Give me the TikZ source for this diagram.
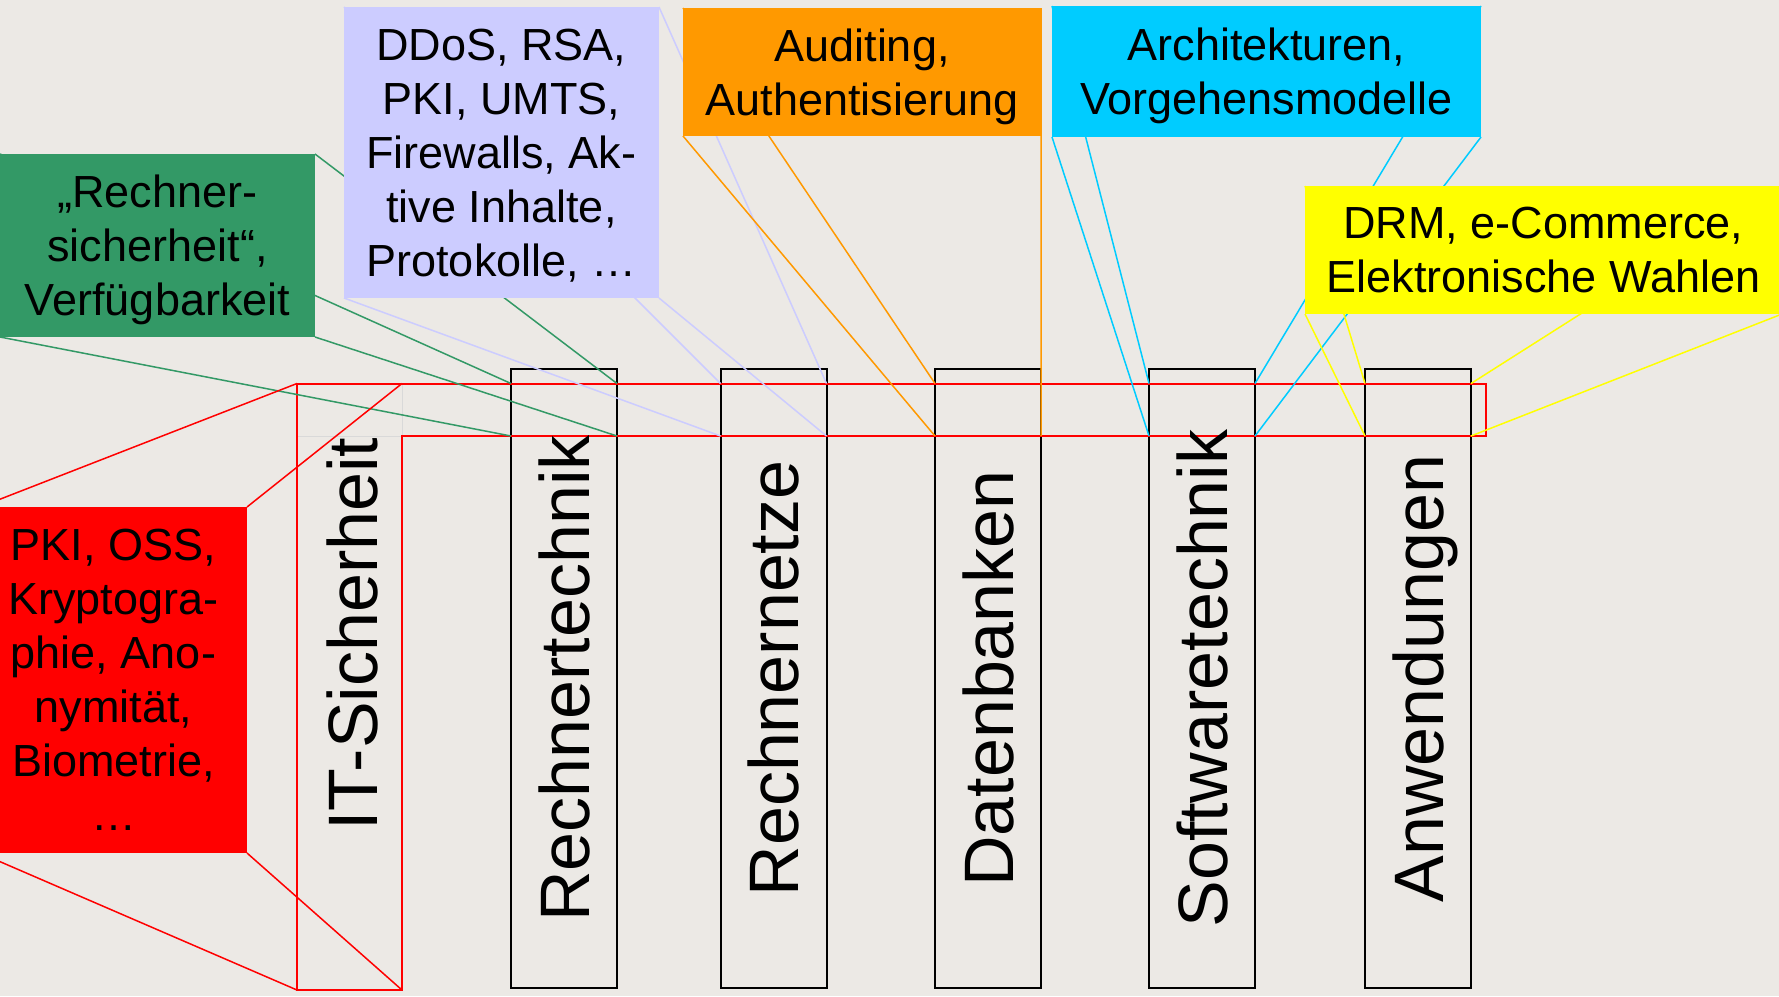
\documentclass[tikz,border=0pt]{standalone}
\usepackage{fontspec}
\setmainfont{Liberation Sans}
\usetikzlibrary{positioning,backgrounds}
\definecolor{hintergrund}{RGB}{236,233,229}
\definecolor{gruen}{RGB}{51,153,102}
\definecolor{lila}{RGB}{204,204,255}
\definecolor{orangeton}{RGB}{255,153,0}
\definecolor{cyanton}{RGB}{0,204,255}
\definecolor{gelb}{RGB}{255,255,0}
\tikzset{
    saeule/.style={draw=black, line width=2pt, minimum width=106pt, minimum height=619pt, inner sep=0pt, outer sep=0pt},
    titel/.style={rotate=90, text depth=0pt, font=\fontsize{70}{84}\selectfont},
    kasten/.style={align=center, inner sep=0pt, outer sep=0pt, text depth=0pt, font=\fontsize{45}{54}\selectfont},
    bezug/.style={line width=1.5pt}
}

\begin{document}
\begin{tikzpicture}[x=1pt, y=-1pt]
                                \useasboundingbox (0,0) rectangle (1779,996);
                                \begin{scope}[on background layer]
                                \fill[hintergrund] (0,0) rectangle (1779,996);
                                \node[saeule, draw=none] (its) at (349.5,686.75) [minimum width=105pt, minimum height=606.5pt] {};
                                \node[saeule] (rt) at (564,678.5) {};
                                \node[saeule] (rn) at (773.5,678.5) {};
                                \node[saeule] (db) at (988,678.5) {};
                                \node[saeule] (sw) at (1202,678.5) {};
                                \node[saeule] (an) at (1418,678.5) {};
                                \coordinate (bandO) at (0,383.5);
                                \coordinate (bandU) at (0,436);
                                \coordinate (bandE) at (1486,383.5);
                                \draw[black!15, line width=1pt] (its.north west) rectangle (its.east |- bandU);
                                \draw[red, line width=2pt] (its.south west) |- (bandE) |- (its.east |- bandU) -- (its.south east) -- cycle;
                                \end{scope}

                                \node[titel] (its-t) at (352,634) {IT-Sicherheit};
                                \node[titel] (rt-t) at (rt) {Rechnertechnik};
                                \node[titel] (rn-t) at (rn) {Rechnernetze};
                                \node[titel] (db-t) at (db) {Datenbanken};
                                \node[titel] (sw-t) at (sw) {Softwaretechnik};
                                \node[titel] (an-t) at (an) {Anwendungen};

                                \node[kasten, fill=gruen, minimum width=315pt, minimum height=183pt] (rs) at (157.5,245.5) {„Rechner-\\sicherheit“,\\Verfügbarkeit};
                                \node[kasten, fill=lila, minimum width=315pt, minimum height=291pt] (nz) at (501.5,152.5) {DDoS, RSA,\\PKI, UMTS,\\Firewalls, Ak-\\tive Inhalte,\\Protokolle, …};
                                \node[kasten, fill=orangeton, minimum width=358pt, minimum height=128pt] (au) at (862,72) {Auditing,\\Authentisierung};
                                \node[kasten, fill=cyanton, minimum width=429pt, minimum height=131pt] (ar) at (1266.5,71.5) {Architekturen,\\Vorgehensmodelle};
                                \node[kasten, fill=gelb, minimum width=477pt, minimum height=128pt] (drm) at (1543.5,250) {DRM, e-Commerce,\\Elektronische Wahlen};
                                \node[kasten, fill=red, minimum width=267pt, minimum height=346pt] (kr) at (113.5,680) {PKI, OSS,\\Kryptogra-\\phie, Ano-\\nymität,\\Biometrie,\\…};

                                \begin{scope}[on background layer]
                                \draw[bezug, gruen]
                                (rs.north west) -- (rt.west |- bandO)
                                (rs.north east) -- (rt.east |- bandO)
                                (rs.south west) -- (rt.west |- bandU)
                                (rs.south east) -- (rt.east |- bandU);
                                \draw[bezug, lila]
                                (nz.north west) -- (rn.west |- bandO)
                                (nz.north east) -- (rn.east |- bandO)
                                (nz.south west) -- (rn.west |- bandU)
                                (nz.south east) -- (rn.east |- bandU);
                                \draw[bezug, orangeton]
                                (au.north west) -- (db.west |- bandO)
                                (au.north east) -- (db.east |- bandO)
                                (au.south west) -- (db.west |- bandU)
                                (au.south east) -- (db.east |- bandU);
                                \draw[bezug, cyanton]
                                (ar.north west) -- (sw.west |- bandO)
                                (ar.north east) -- (sw.east |- bandO)
                                (ar.south west) -- (sw.west |- bandU)
                                (ar.south east) -- (sw.east |- bandU);
                                \draw[bezug, gelb]
                                (drm.north west) -- (an.west |- bandO)
                                (drm.north east) -- (an.east |- bandO)
                                (drm.south west) -- (an.west |- bandU)
                                (drm.south east) -- (an.east |- bandU);
                                \draw[bezug, red]
                                (kr.north west) -- (its.north west)
                                (kr.north east) -- (its.north east)
                                (kr.south west) -- (its.south west)
                                (kr.south east) -- (its.south east);
                                \end{scope}
                            \end{tikzpicture}
\end{document}
